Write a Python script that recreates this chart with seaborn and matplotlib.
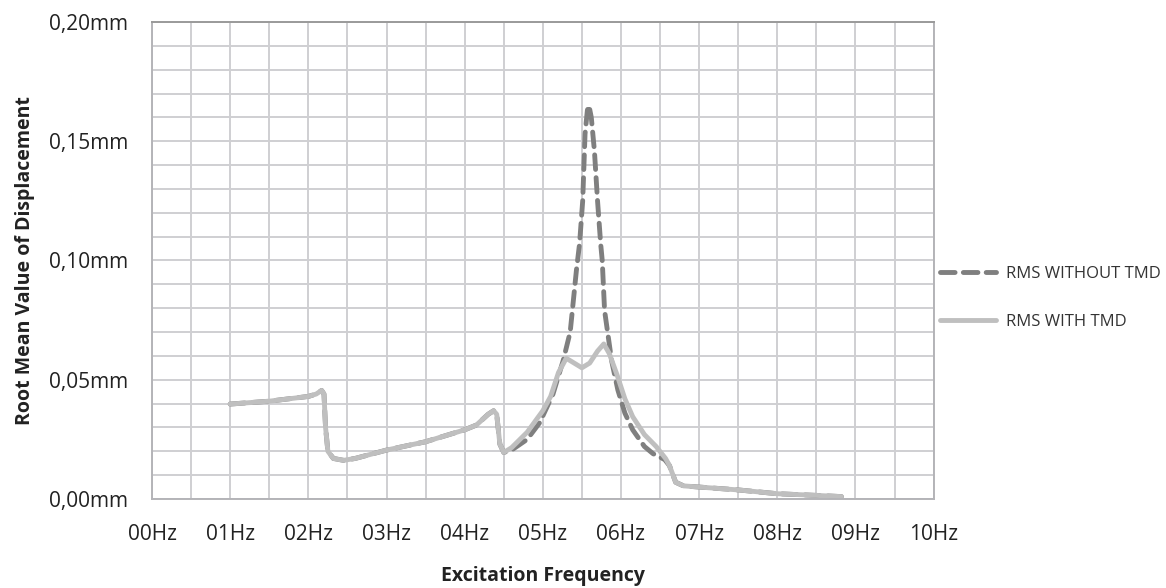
import numpy as np
import pandas as pd
import matplotlib
matplotlib.use("Agg")
import matplotlib.pyplot as plt
import seaborn as sns
from matplotlib.ticker import MultipleLocator, FuncFormatter

# ---- data ----
freq_without = [1.00, 1.50, 2.00, 2.10, 2.17, 2.20, 2.22, 2.25, 2.32, 2.45, 2.60, 3.00, 3.50, 4.00,
                4.15, 4.30, 4.37, 4.41, 4.45, 4.50, 4.60, 4.80, 4.96, 5.13, 5.26, 5.35, 5.43, 5.47,
                5.51, 5.54, 5.57, 5.59, 5.62, 5.66, 5.70, 5.74, 5.76, 5.79, 5.88, 5.96, 6.05, 6.15,
                6.30, 6.41, 6.56, 6.62, 6.70, 6.80, 7.00, 7.50, 8.00, 8.50, 8.82]
rms_without = [0.0398, 0.0410, 0.0430, 0.0440, 0.0455, 0.0440, 0.0300, 0.0200, 0.0170, 0.0162, 0.0170,
               0.0205, 0.0240, 0.0290, 0.0310, 0.0355, 0.0370, 0.0355, 0.0230, 0.0195, 0.0205, 0.0250,
               0.0320, 0.0440, 0.0580, 0.0700, 0.0960, 0.1070, 0.1250, 0.1530, 0.1630, 0.1650, 0.1600,
               0.1460, 0.1250, 0.1070, 0.1000, 0.0790, 0.0580, 0.0457, 0.0360, 0.0290, 0.0220, 0.0190,
               0.0165, 0.0140, 0.0070, 0.0055, 0.0050, 0.0038, 0.0022, 0.0015, 0.0010]

freq_with = [1.00, 1.50, 2.00, 2.10, 2.17, 2.20, 2.22, 2.25, 2.32, 2.45, 2.60, 3.00, 3.50, 4.00,
             4.15, 4.30, 4.37, 4.41, 4.45, 4.50, 4.60, 4.80, 5.00, 5.10, 5.20, 5.30, 5.40, 5.50,
             5.60, 5.70, 5.78, 5.85, 5.95, 6.05, 6.15, 6.30, 6.45, 6.57, 6.62, 6.70, 6.80, 7.00,
             7.50, 8.00, 8.50, 8.82]
rms_with = [0.0398, 0.0410, 0.0430, 0.0440, 0.0455, 0.0440, 0.0300, 0.0200, 0.0170, 0.0162, 0.0170,
            0.0205, 0.0240, 0.0290, 0.0310, 0.0355, 0.0370, 0.0355, 0.0230, 0.0195, 0.0215, 0.0280,
            0.0370, 0.0430, 0.0530, 0.0590, 0.0570, 0.0550, 0.0570, 0.0620, 0.0650, 0.0610, 0.0520,
            0.0420, 0.0345, 0.0270, 0.0220, 0.0170, 0.0140, 0.0070, 0.0055, 0.0050, 0.0038, 0.0022,
            0.0015, 0.0010]

series_labels = ["RMS WITHOUT TMD", "RMS WITH TMD"]
x_label = "Excitation Frequency"
y_label = "Root Mean Value of Displacement"

# ---- style ----
sns.set_style("white")
plt.rcParams["font.family"] = ["Open Sans", "DejaVu Sans"]

fig = plt.figure(figsize=(11.66, 5.88), dpi=100)
ax = fig.add_axes([0.1304, 0.1514, 0.6703, 0.8112])

df_without = pd.DataFrame({"f": freq_without, "rms": rms_without})
df_with = pd.DataFrame({"f": freq_with, "rms": rms_with})

sns.lineplot(data=df_without, x="f", y="rms", ax=ax, color="#7f7f7f", lw=3.5,
             label=series_labels[0], sort=False)
ln = ax.lines[-1]
ln.set_dashes([3.0, 1.7])
ln.set_dash_capstyle("round")
ln.set_dash_joinstyle("round")
sns.lineplot(data=df_with, x="f", y="rms", ax=ax, color="#bfbfbf", lw=3.5,
             label=series_labels[1], sort=False)
ln = ax.lines[-1]
ln.set_solid_capstyle("round")
ln.set_solid_joinstyle("round")

ax.set_xlim(0, 10)
ax.set_ylim(0, 0.20)
ax.xaxis.set_major_locator(MultipleLocator(1))
ax.xaxis.set_minor_locator(MultipleLocator(0.5))
ax.yaxis.set_major_locator(MultipleLocator(0.05))
ax.yaxis.set_minor_locator(MultipleLocator(0.01))
ax.xaxis.set_major_formatter(FuncFormatter(lambda v, p: f"{int(round(v)):02d}Hz"))
ax.yaxis.set_major_formatter(FuncFormatter(lambda v, p: f"{v:.2f}".replace(".", ",") + "mm"))

ax.grid(True, which="both", color="#cfcfd2", lw=1.4)
ax.set_axisbelow(True)
for s in ax.spines.values():
    s.set_visible(True)
    s.set_color("#b4b4b8")
    s.set_linewidth(1.4)
ax.spines["top"].set_color("#9a9a9a")

ax.tick_params(axis="both", which="both", length=0, labelsize=15, colors="#222222")
ax.tick_params(axis="x", pad=18)
ax.tick_params(axis="y", pad=17)

ax.set_xlabel(x_label, fontsize=14, fontweight="bold", color="#222222", labelpad=15)
ax.set_ylabel(y_label, fontsize=14, fontweight="bold", color="#222222", labelpad=10)

ax.legend_.remove()
handles, labels = ax.get_legend_handles_labels()
fig.legend(handles, labels, loc="upper left", bbox_to_anchor=(0.793, 0.573),
           frameon=False, fontsize=12, handlelength=3.4, handletextpad=0.6,
           labelspacing=1.9, labelcolor="#333333")

fig.savefig("out.png", dpi=100)
